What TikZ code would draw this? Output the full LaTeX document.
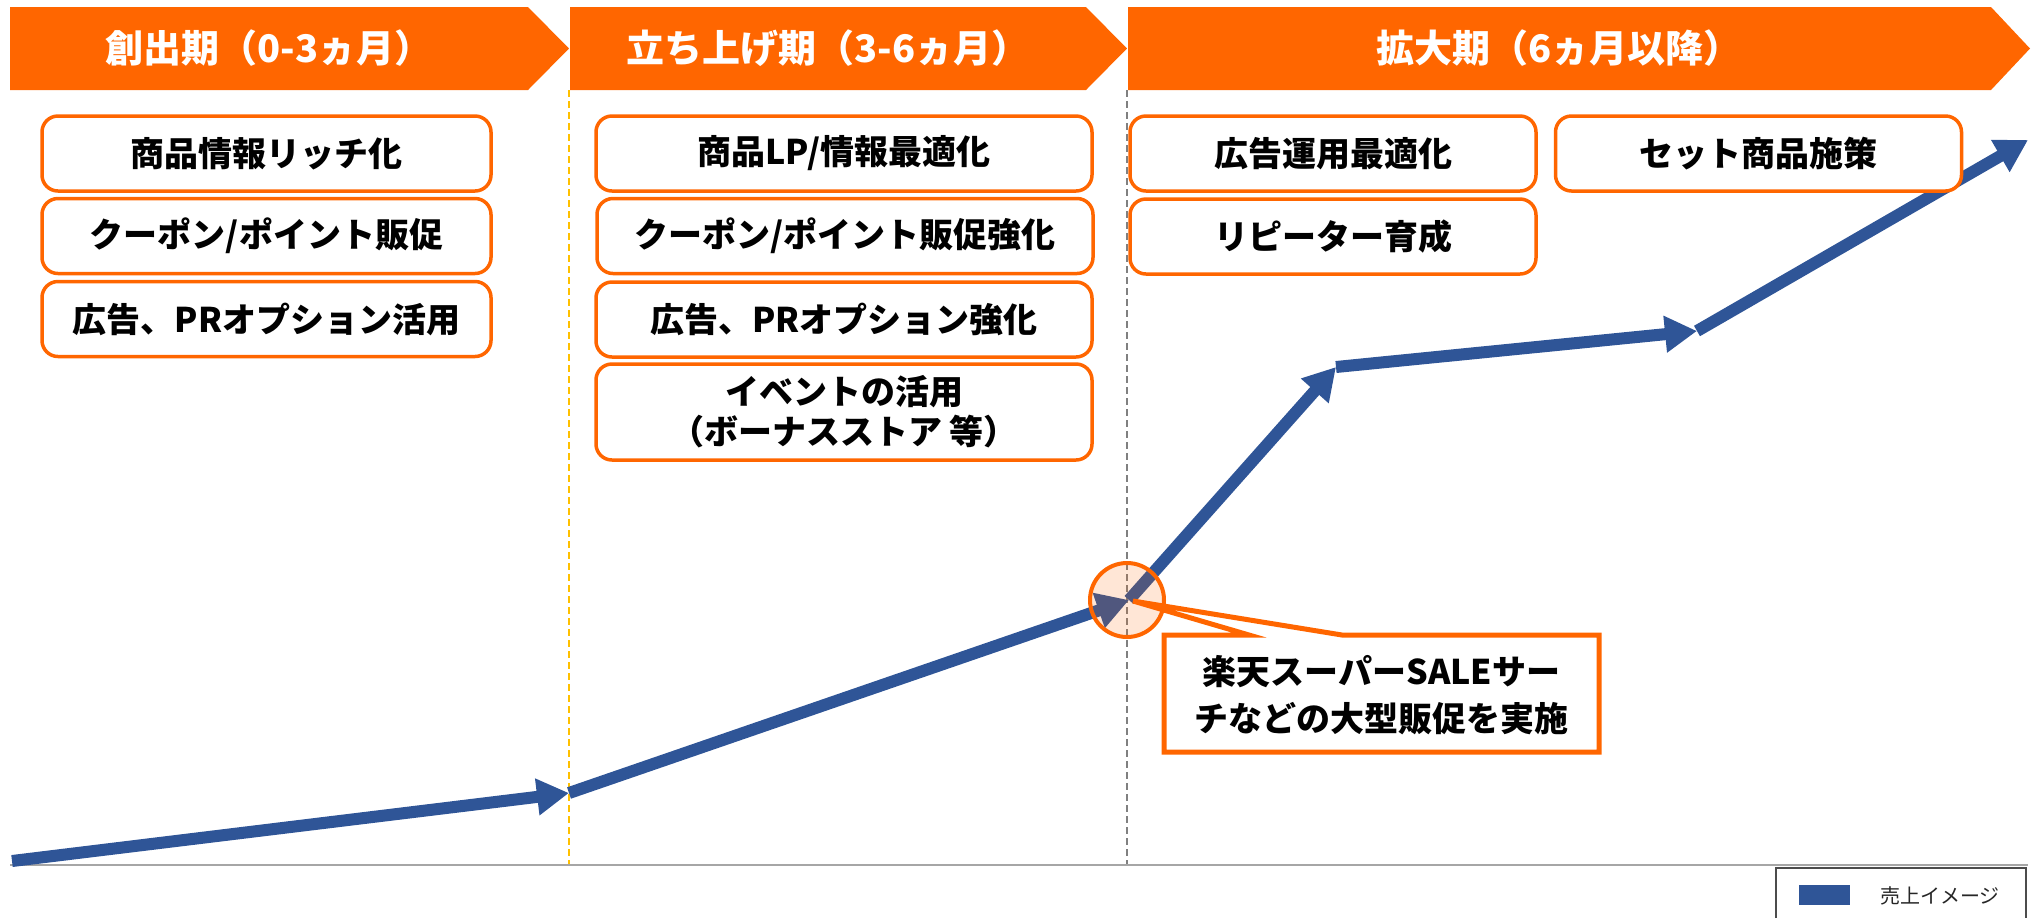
\documentclass[tikz,border=0pt]{standalone}
\usepackage{fontspec}
\newfontfamily\jp{Noto Sans CJK JP}
\usetikzlibrary{arrows.meta,calc}
\definecolor{orng}{RGB}{255,102,0}
\definecolor{sblue}{RGB}{47,85,151}
\definecolor{axisgray}{RGB}{166,166,166}
\definecolor{guideyellow}{RGB}{255,192,0}
\definecolor{guidegray}{RGB}{128,128,128}
\begin{document}
\begin{tikzpicture}[x=0.5pt,y=-0.5pt,
  banner/.style={fill=orng},
  bantext/.style={text=white,font=\jp\bfseries\fontsize{19}{22}\selectfont,inner sep=0pt},
  jbox/.style={draw=orng,line width=1.75pt,rounded corners=8pt,fill=white,align=center,
    font=\jp\bfseries\fontsize{17}{20}\selectfont,inner sep=0pt,minimum height=37.5pt},
  colA/.style={jbox,minimum width=224.5pt},
  colB/.style={jbox,minimum width=248pt},
  colC/.style={jbox,minimum width=203pt},
  salesarrow/.style={draw=sblue,line width=6pt,-{Triangle[width=17.5pt,length=16pt]}},
  guide/.style={line width=0.8pt,dash pattern=on 3.5pt off 2pt},
  calloutshape/.style={draw=orng,fill=white,line width=2.5pt,line join=miter},
  calltext/.style={font=\jp\bfseries\fontsize{17}{23.5}\selectfont,align=center,inner sep=0pt},
  hilite/.style={circle,draw=orng,line width=2pt,fill=orng,fill opacity=0.16,draw opacity=1,minimum size=37pt,inner sep=0pt},
  legendtext/.style={font=\jp\fontsize{10}{12}\selectfont,text=black!85,inner sep=0pt}
]
\useasboundingbox (0,0) rectangle (2031,918);

% guides and axis
\coordinate (gy1) at (569,90);   \coordinate (gy2) at (569,865);
\coordinate (gg1) at (1127,90);  \coordinate (gg2) at (1127,865);
\coordinate (ax1) at (10,865);   \coordinate (ax2) at (2028,865);
\draw[guide,guideyellow] (gy1) -- (gy2);
\draw[guide,guidegray] (gg1) -- (gg2);
\draw[axisgray,line width=1pt] (ax1) -- (ax2);

% banners
\path[banner] (10,7) -- (528,7) -- (569,48.5) -- (528,90) -- (10,90) -- cycle;
\path[banner] (570,7) -- (1086,7) -- (1127,48.5) -- (1086,90) -- (570,90) -- cycle;
\path[banner] (1128,7) -- (1991,7) -- (2030,48.5) -- (1991,90) -- (1128,90) -- cycle;
\node[bantext] (ban1) at (269,48) {創出期（0-3ヵ月）};
\node[bantext] (ban2) at (828,48) {立ち上げ期（3-6ヵ月）};
\node[bantext] (ban3) at (1559,48) {拡大期（6ヵ月以降）};

% sales arrows
\coordinate (p0) at (12,861);
\coordinate (p1) at (569,793);
\coordinate (p2) at (1129,600);
\coordinate (p3) at (1336,367);
\coordinate (p4) at (1697,331);
\coordinate (p5) at (2028,140);
\draw[salesarrow] (p0) -- (p1);
\draw[salesarrow] (p1) -- (p2);
\draw[salesarrow] (p2) -- (p3);
\draw[salesarrow] (p3) -- (p4);
\draw[salesarrow] (p4) -- (p5);

% column 1
\node[colA] (a1) at (266.5,153.5) {商品情報リッチ化};
\node[colA] (a2) at (266.5,236) {クーポン/ポイント販促};
\node[colA] (a3) at (266.5,319) {広告、PRオプション活用};

% column 2
\node[colB] (b1) at (844,153.5) {商品LP/情報最適化};
\node[colB] (b2) at (845,236) {クーポン/ポイント販促強化};
\node[colB] (b3) at (844,319.5) {広告、PRオプション強化};
\node[colB,minimum height=48pt] (b4) at (844,412) {イベントの活用\\（ボーナスストア 等）};

% column 3
\node[colC] (c1) at (1333,153.5) {広告運用最適化};
\node[colC] (c2) at (1333,236.5) {リピーター育成};
\node[colC] (c3) at (1758.5,153.5) {セット商品施策};

% callout
\coordinate (tip) at (1133,601);
\path[calloutshape] (1164,635) -- (1249,635) -- (tip) -- (1342,635) -- (1599,635)
  -- (1599,752) -- (1164,752) -- cycle;
\node[calltext] (callout) at (1381.5,695) {楽天スーパーSALEサー\\チなどの大型販促を実施};

% highlight circle
\node[hilite] (hl) at (1127,600) {};

% legend
\draw[black!70,line width=0.7pt] (1776,918) -- (1776,868) -- (2026,868) -- (2026,918);
\node[fill=sblue,minimum width=25.5pt,minimum height=10pt,inner sep=0pt] (swatch) at (1824.5,895) {};
\node[legendtext] (legend) at (1940,896) {売上イメージ};
\end{tikzpicture}
\end{document}
